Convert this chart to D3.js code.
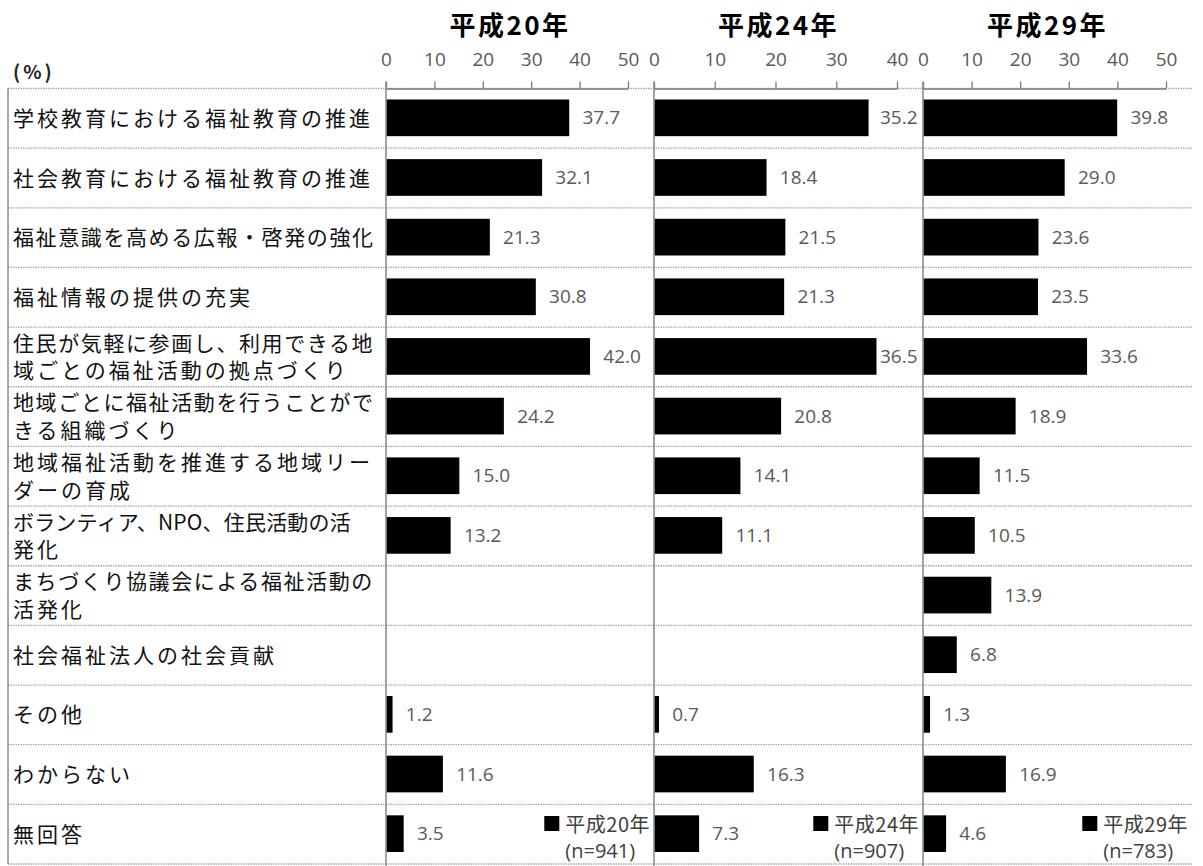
<!DOCTYPE html>
<html><head><meta charset="utf-8">
<script src="https://cdn.jsdelivr.net/npm/d3@7"></script>
<style>
html,body{margin:0;padding:0;background:#fff;}
svg{display:block;}
</style></head>
<body>
<svg id="chart" width="1203" height="866"></svg>
<script>
// ---- data ----
const categories = [
  ["学校教育における福祉教育の推進"],
  ["社会教育における福祉教育の推進"],
  ["福祉意識を高める広報・啓発の強化"],
  ["福祉情報の提供の充実"],
  ["住民が気軽に参画し、利用できる地", "域ごとの福祉活動の拠点づくり"],
  ["地域ごとに福祉活動を行うことがで", "きる組織づくり"],
  ["地域福祉活動を推進する地域リー", "ダーの育成"],
  ["ボランティア、NPO、住民活動の活", "発化"],
  ["まちづくり協議会による福祉活動の", "活発化"],
  ["社会福祉法人の社会貢献"],
  ["その他"],
  ["わからない"],
  ["無回答"]
];
const seriesNames = ["平成20年", "平成24年", "平成29年"];
const sampleSizes = ["(n=941)", "(n=907)", "(n=783)"];
const valuesH20 = [37.7, 32.1, 21.3, 30.8, 42.0, 24.2, 15.0, 13.2, null, null, 1.2, 11.6, 3.5];
const valuesH24 = [35.2, 18.4, 21.5, 21.3, 36.5, 20.8, 14.1, 11.1, null, null, 0.7, 16.3, 7.3];
const valuesH29 = [39.8, 29.0, 23.6, 23.5, 33.6, 18.9, 11.5, 10.5, 13.9, 6.8, 1.3, 16.9, 4.6];
const axisMax = [50, 40, 50];
const tickValuesH20 = [0, 10, 20, 30, 40, 50];
const tickValuesH24 = [0, 10, 20, 30, 40];
const tickValuesH29 = [0, 10, 20, 30, 40, 50];
const unitLabel = "(%)";

// ---- layout ----
const svg = d3.select("#chart");
const topY = 88.5, bottomY = 864, leftEdge = 8, rightEdge = 1193;
const cjk = "'Noto Sans CJK JP','Noto Sans',sans-serif";
const num = "'Open Sans','Noto Sans',sans-serif";

const y = d3.scaleBand().domain(d3.range(categories.length)).range([topY, bottomY]).padding(0);
const barH = y.bandwidth() * 0.615;

const panels = [
  {name: seriesNames[0], n: sampleSizes[0], values: valuesH20, ticks: tickValuesH20,
   x: d3.scaleLinear().domain([0, axisMax[0]]).range([386, 628])},
  {name: seriesNames[1], n: sampleSizes[1], values: valuesH24, ticks: tickValuesH24,
   x: d3.scaleLinear().domain([0, axisMax[1]]).range([654, 897])},
  {name: seriesNames[2], n: sampleSizes[2], values: valuesH29, ticks: tickValuesH29,
   x: d3.scaleLinear().domain([0, axisMax[2]]).range([923, 1166])}
];

// dotted row lines (including top)
const rowLines = d3.range(categories.length + 1).map(i => i < categories.length ? y(i) : bottomY);
svg.append("g").selectAll("line").data(rowLines).join("line")
  .attr("x1", leftEdge).attr("x2", rightEdge)
  .attr("y1", d => d).attr("y2", d => d)
  .attr("stroke", "#a8a8a8").attr("stroke-width", 1.3)
  .attr("stroke-dasharray", "1.5,1");

// left border
svg.append("line").attr("x1", leftEdge).attr("x2", leftEdge)
  .attr("y1", topY).attr("y2", bottomY)
  .attr("stroke", "#8a8a8a").attr("stroke-width", 1.5);

// unit label
svg.append("text").attr("x", 13).attr("y", 79)
  .attr("font-family", cjk).attr("font-size", 19).attr("font-weight", 700)
  .attr("letter-spacing", 3)
  .attr("fill", "#222").text(unitLabel);

// category labels
const labelMax = 360, labelFont = 21;
const lg = svg.append("g");
categories.forEach((lines, i) => {
  const cy = y(i) + y.bandwidth() / 2;
  const lh = 27.5;
  lines.forEach((line, j) => {
    const n = [...line].length;
    const ls = Math.min(3, (labelMax - n * labelFont) / Math.max(1, n - 1));
    lg.append("text")
      .attr("x", 13)
      .attr("y", cy + (j - (lines.length - 1) / 2) * lh)
      .attr("dy", "0.36em")
      .attr("font-family", cjk).attr("font-size", labelFont)
      .attr("letter-spacing", ls)
      .attr("fill", "#111")
      .text(line);
  });
});

panels.forEach(p => {
  const g = svg.append("g");
  const [x0, x1] = p.x.range();

  // title
  g.append("text").attr("x", (x0 + x1) / 2 + 3).attr("y", 35)
    .attr("text-anchor", "middle")
    .attr("font-family", cjk).attr("font-size", 26).attr("font-weight", 700)
    .attr("letter-spacing", 2.5).attr("fill", "#000")
    .text(p.name);

  // axis
  const ax = g.append("g").attr("transform", `translate(0,${topY})`)
    .call(d3.axisTop(p.x).tickValues(p.ticks).tickSize(7).tickPadding(16).tickSizeOuter(0));
  ax.select(".domain").attr("stroke", "#7a7a7a").attr("stroke-width", 1.5);
  ax.selectAll(".tick line").attr("stroke", "#7a7a7a").attr("stroke-width", 1.3);
  ax.selectAll(".tick text").attr("font-family", num).attr("font-size", 19)
    .attr("fill", "#595959");

  // vertical category axis
  g.append("line").attr("x1", x0).attr("x2", x0)
    .attr("y1", topY - 7).attr("y2", 866)
    .attr("stroke", "#858585").attr("stroke-width", 1.5);

  // bars
  const data = p.values.map((v, i) => ({v, i})).filter(d => d.v != null);
  g.selectAll("rect.bar").data(data).join("rect")
    .attr("class", "bar")
    .attr("x", x0 + 0.75)
    .attr("y", d => y(d.i) + (y.bandwidth() - barH) / 2 - 0.5)
    .attr("width", d => Math.max(0, p.x(d.v) - x0))
    .attr("height", barH)
    .attr("fill", "#000");

  // value labels
  g.selectAll("text.val").data(data).join("text")
    .attr("class", "val")
    .attr("x", d => Math.min(p.x(d.v) + 14, x1 - 17))
    .attr("y", d => y(d.i) + y.bandwidth() / 2 - 0.5)
    .attr("dy", "0.35em")
    .attr("font-family", num).attr("font-size", 19)
    .attr("fill", "#595959")
    .text(d => d3.format(".1f")(d.v));

  // legend
  const lgx = x1 + 22;
  const t1 = g.append("text").attr("x", lgx).attr("y", 832)
    .attr("text-anchor", "end")
    .attr("font-family", cjk).attr("font-size", 20)
    .attr("letter-spacing", 0.5)
    .attr("fill", "#404040").text(p.name);
  const w = t1.node().getComputedTextLength();
  const tx = lgx - w;
  g.append("rect").attr("x", tx - 21).attr("y", 832 - 16).attr("width", 15).attr("height", 15)
    .attr("fill", "#000");
  g.append("text").attr("x", tx).attr("y", 858)
    .attr("font-family", num).attr("font-size", 20)
    .attr("fill", "#404040").text(p.n);
});
</script>
</body></html>
